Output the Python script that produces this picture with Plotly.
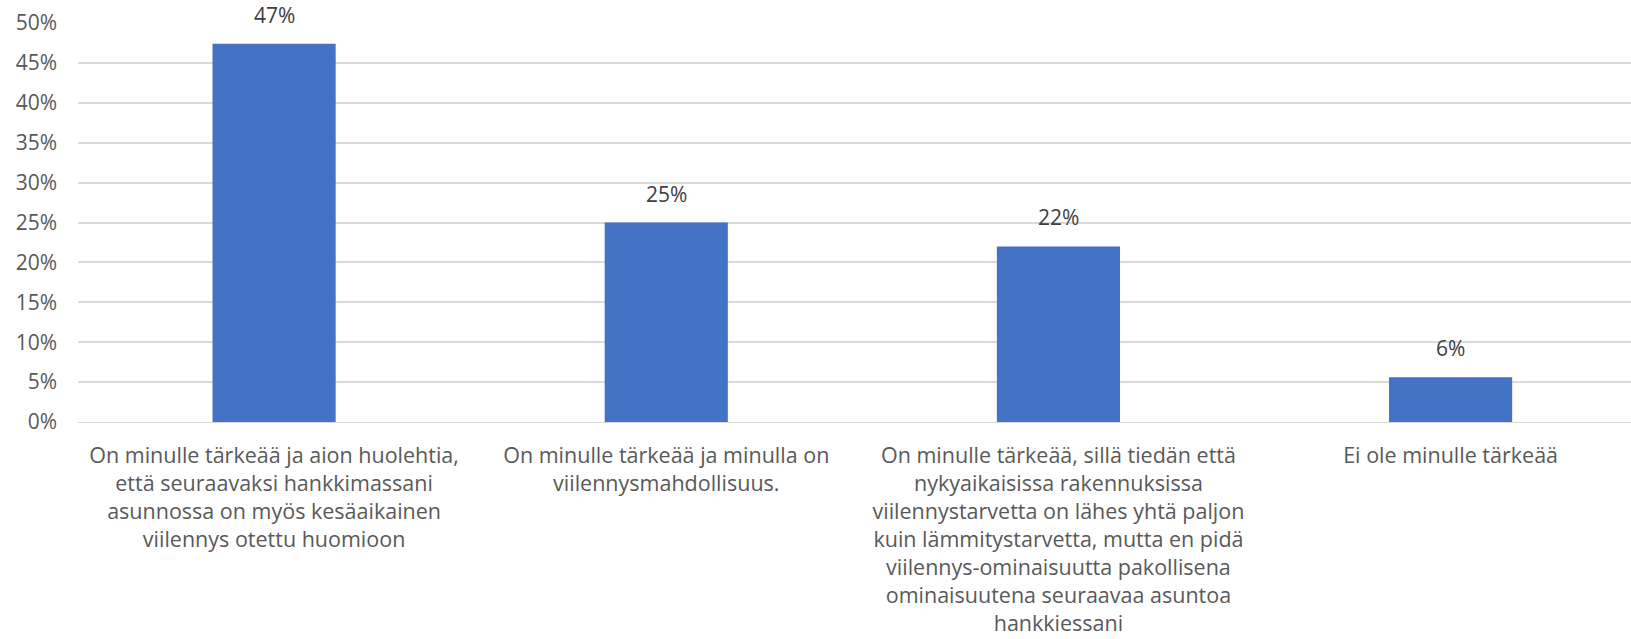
import plotly.graph_objects as go

# survey answers (Finnish) and share of respondents
categories = [
    "On minulle tärkeää ja aion huolehtia,<br>että seuraavaksi hankkimassani<br>asunnossa on myös kesäaikainen<br>viilennys otettu huomioon",
    "On minulle tärkeää ja minulla on<br>viilennysmahdollisuus.",
    "On minulle tärkeää, sillä tiedän että<br>nykyaikaisissa rakennuksissa<br>viilennystarvetta on lähes yhtä paljon<br>kuin lämmitystarvetta, mutta en pidä<br>viilennys-ominaisuutta pakollisena<br>ominaisuutena seuraavaa asuntoa<br>hankkiessani",
    "Ei ole minulle tärkeää",
]
shares = [0.474, 0.25, 0.22, 0.056]
value_labels = ["47%", "25%", "22%", "6%"]
y_ticks = [0, 0.05, 0.10, 0.15, 0.20, 0.25, 0.30, 0.35, 0.40, 0.45, 0.50]

FONT = "Open Sans, Noto Sans, sans-serif"
BAR_COLOR = "#4472C4"
GRID_COLOR = "#D9D9D9"
TEXT_COLOR = "#595959"

fig = go.Figure(go.Bar(
    x=list(range(len(categories))),
    y=shares,
    width=0.314,
    marker=dict(color=BAR_COLOR, line=dict(width=0)),
    hoverinfo="skip",
))

# data labels above each bar
for i, (v, lbl) in enumerate(zip(shares, value_labels)):
    fig.add_annotation(
        x=i, y=v, text=lbl, showarrow=False,
        yanchor="bottom", yshift=13,
        font=dict(family=FONT, size=21, color="#404040"),
    )

fig.update_layout(
    width=1631, height=639,
    margin=dict(l=78, r=0, t=23, b=217),
    plot_bgcolor="white", paper_bgcolor="white",
    showlegend=False,
    font=dict(family=FONT, size=21, color=TEXT_COLOR),
    xaxis=dict(
        range=[-0.5, 3.46],
        tickmode="array",
        tickvals=list(range(len(categories))),
        ticktext=categories,
        tickangle=0,
        showgrid=False,
        showline=True, linecolor=GRID_COLOR, linewidth=1,
        ticks="",
        ticklabelstandoff=14,
        tickfont=dict(size=21.5, color=TEXT_COLOR),
        zeroline=False,
        automargin=False,
    ),
    yaxis=dict(
        range=[0, 0.5],
        tickmode="array",
        tickvals=y_ticks,
        tickformat=".0%",
        showgrid=True, gridcolor=GRID_COLOR, gridwidth=1.5,
        zeroline=False,
        showline=False,
        ticks="",
        ticklabelstandoff=20,
        tickfont=dict(size=21, color=TEXT_COLOR),
        automargin=False,
    ),
)

# drop the browser's default 8px body margin so the figure sits at the page corner
fig.write_html(
    "out.html",
    config={"displayModeBar": False},
    post_script="document.body.style.margin = '0';",
)
